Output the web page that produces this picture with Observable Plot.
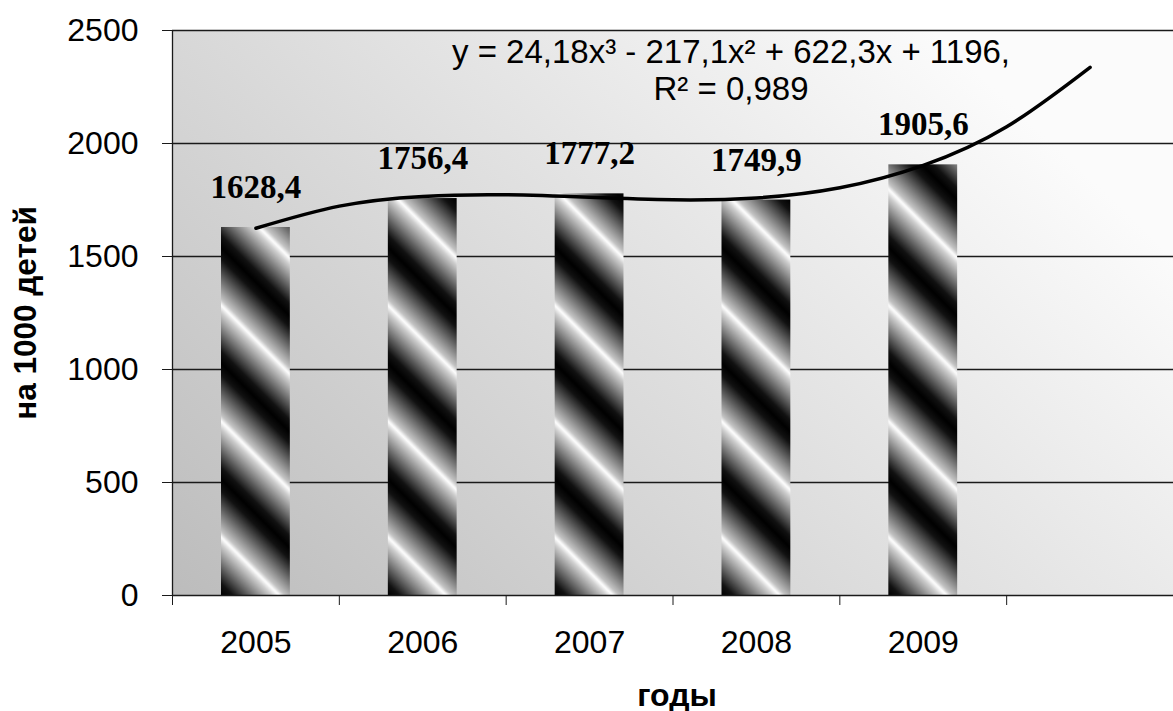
<!DOCTYPE html>
<html>
<head>
<meta charset="utf-8">
<script src="https://cdn.jsdelivr.net/npm/d3@7"></script>
<script src="https://cdn.jsdelivr.net/npm/@observablehq/plot@0.6"></script>
<style>
  html, body { margin: 0; padding: 0; background: white; }
</style>
</head>
<body>
<div id="chart"></div>
<script>
// ---- data ----
const years = ["2005", "2006", "2007", "2008", "2009"];
const values = [1628.4, 1756.4, 1777.2, 1749.9, 1905.6];
const yTicks = [0, 500, 1000, 1500, 2000, 2500];
const trendX = [1, 1.5, 2, 2.5, 3, 3.5, 4, 4.5, 5, 5.5, 6];
const trendY = [1625, 1723, 1766, 1773, 1762, 1751, 1759, 1804, 1903, 2074, 2337];
const equationText = "y = 24,18x³ - 217,1x² + 622,3x + 1196,\nR² = 0,989";
const xTitle = "годы";
const yTitle = "на 1000 детей";

const data = years.map((year, i) => ({year, idx: i + 1, value: values[i]}));
const trend = trendX.map((x, i) => ({x, y: trendY[i]}));
const nSlots = years.length + 1; // extra empty slot for forecast
const boundaries = d3.range(nSlots + 1).map(i => i + 0.5);
const fmt = v => v.toFixed(1).replace(".", ",");

const sans = "'Liberation Sans', Arial, sans-serif";
const serif = "'Liberation Serif', 'Times New Roman', serif";

const chart = Plot.plot({
  width: 1173,
  height: 711,
  marginLeft: 172,
  marginRight: 0,
  marginTop: 30,
  marginBottom: 116,
  x: {domain: [0.5, nSlots + 0.5]},
  y: {domain: [0, 2500]},
  style: {fontFamily: sans, background: "white", color: "black", overflow: "visible"},
  marks: [
    Plot.frame({fill: "url(#plotBg)", stroke: null}),
    Plot.gridY(yTicks.slice(1), {stroke: "#1a1a1a", strokeOpacity: 1, strokeWidth: 1.3}),
    Plot.rectY(data, {
      x1: d => d.idx - 0.5, x2: d => d.idx + 0.5, y1: 0, y2: "value",
      insetLeft: 49, insetRight: 49, fill: "#555"
    }),
    Plot.ruleY([0], {stroke: "#1a1a1a", strokeWidth: 1.3}),
    Plot.ruleX([0.5], {stroke: "#1a1a1a", strokeWidth: 1.3}),
    Plot.line(trend, {x: "x", y: "y", curve: "natural", stroke: "black", strokeWidth: 3.5}),
    Plot.text(data, {
      x: "idx", y: "value", text: d => fmt(d.value), dy: -40,
      fontFamily: serif, fontWeight: "bold", fontSize: 33, fill: "black"
    }),
    Plot.text([equationText], {
      frameAnchor: "top", lineAnchor: "top", dx: 58, dy: 6,
      fontSize: 33, lineHeight: 1.12, fill: "black"
    }),
    Plot.axisY({ticks: yTicks, tickSize: 10, tickPadding: 24, tickFormat: d => String(d), fontSize: 32, label: null, stroke: "#1a1a1a"}),
    Plot.axisX({ticks: boundaries, tickSize: 10, tickFormat: () => "", label: null, stroke: "#1a1a1a"}),
    Plot.axisX({ticks: data.map(d => d.idx), tickSize: 0, tickPadding: 35, tickFormat: i => years[i - 1], fontSize: 32, label: null}),
    Plot.text([xTitle], {frameAnchor: "bottom", dx: 4, dy: 110, fontWeight: "bold", fontSize: 32, fill: "black"}),
    Plot.text([yTitle], {frameAnchor: "left", textAnchor: "middle", dx: -147, rotate: -90, fontWeight: "bold", fontSize: 31.5, fill: "black"})
  ]
});

// gradients / stripe patterns
const svg = d3.select(chart);
const defs = svg.insert("defs", ":first-child");
const bg = defs.append("linearGradient").attr("id", "plotBg")
  .attr("x1", 0).attr("y1", 1).attr("x2", 1).attr("y2", 0.4);
bg.append("stop").attr("offset", 0).attr("stop-color", "#bcbcbc");
bg.append("stop").attr("offset", 1).attr("stop-color", "#fbfbfb");

const sg = defs.append("linearGradient").attr("id", "stripeGrad")
  .attr("x1", 0).attr("y1", 0).attr("x2", 0).attr("y2", 1);
[[0, "#000"], [0.1, "#111"], [0.45, "#c4c4c4"], [0.5, "#ffffff"], [0.56, "#cfcfcf"], [0.9, "#111"], [1, "#000"]]
  .forEach(([o, c]) => sg.append("stop").attr("offset", o).attr("stop-color", c));

const period = 82;
svg.selectAll('g[aria-label="rect"] rect').each(function(d, i) {
  const r = d3.select(this);
  const x = +r.attr("x"), y = +r.attr("y"), h = +r.attr("height");
  const id = "stripe" + i;
  const p = defs.append("pattern").attr("id", id)
    .attr("patternUnits", "userSpaceOnUse")
    .attr("width", 4000).attr("height", period)
    .attr("patternTransform", `translate(${x},${y + h}) rotate(45)`);
  p.append("rect").attr("x", 0).attr("y", 0).attr("width", 4000).attr("height", period)
    .attr("fill", "url(#stripeGrad)");
  r.attr("fill", `url(#${id})`);
});

document.getElementById("chart").appendChild(chart);
</script>
</body>
</html>
